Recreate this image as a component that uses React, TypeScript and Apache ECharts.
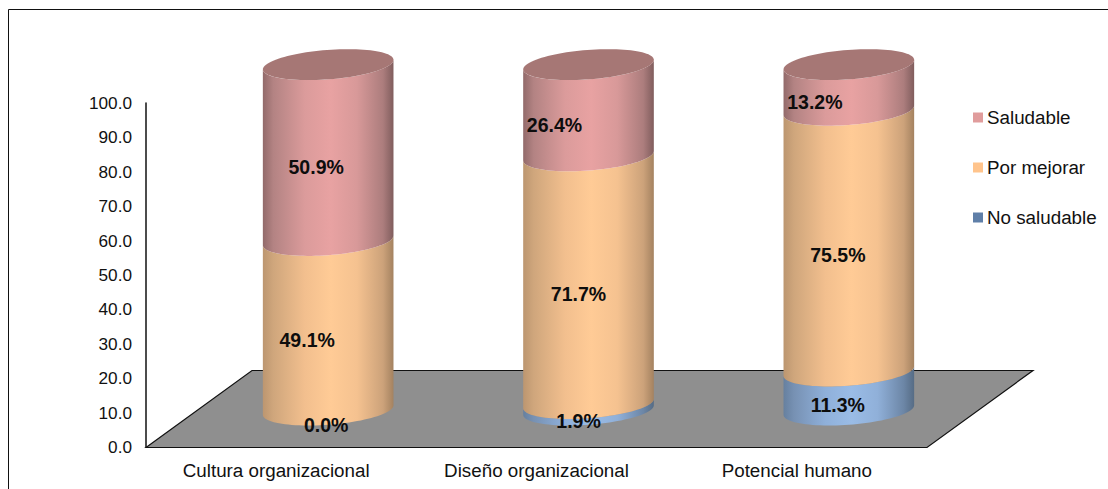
import React, { useEffect, useRef } from "react";
import * as echarts from "echarts";

const categories = ["Cultura organizacional", "Diseño organizacional", "Potencial humano"];
const noSaludable = [0.0, 1.9, 11.3];
const porMejorar = [49.1, 71.7, 75.5];
const saludable = [50.9, 26.4, 13.2];
const axisTicks = { min: 0, max: 100, interval: 10 };

const FONT = '"Liberation Sans", Arial, sans-serif';
const DEPTH = { x: 106, y: 77 };
const CYL = { dx: 52, dy: -37, stretch: 1.004, a: 65.5, b: 14.7, theta: (4.4 * Math.PI) / 180 };
const LABEL_NUDGE: Record<string, number[]> = {
  "No saludable": [-2, -10, -11],
  "Por mejorar": [-21, -10, -11],
  Saludable: [-12, -34, -34],
};

const ramp = (colors: string[]) => {
  const offsets = [0, 0.08, 0.32, 0.52, 0.72, 0.92, 1];
  return new echarts.graphic.LinearGradient(
    0,
    0,
    1,
    0,
    colors.map((color, i) => ({ offset: offsets[i], color }))
  );
};

const layers = [
  {
    name: "No saludable",
    values: noSaludable,
    below: [0, 0, 0],
    fill: () => ramp(["#66809F", "#7791B3", "#8FB0DA", "#9ABCE6", "#90B0D9", "#6C86A6", "#566C85"]),
  },
  {
    name: "Por mejorar",
    values: porMejorar,
    below: noSaludable,
    fill: () => ramp(["#BC9670", "#CFA67C", "#F2BF8E", "#FFCB96", "#F5C290", "#CCA27A", "#A48260"]),
  },
  {
    name: "Saludable",
    values: saludable,
    below: noSaludable.map((v, i) => v + porMejorar[i]),
    fill: () => ramp(["#926A6A", "#B38383", "#DB9B9B", "#E8A2A2", "#D89999", "#AC7D7D", "#805D5D"]),
  },
];

const rim = (cx: number, cy: number, from: number, to: number, steps = 48) => {
  const { a, b, theta } = CYL;
  const pts: number[][] = [];
  for (let i = 0; i <= steps; i++) {
    const t = from + ((to - from) * i) / steps;
    pts.push([
      cx + a * Math.cos(t) * Math.cos(theta) + b * Math.sin(t) * Math.sin(theta),
      cy - a * Math.cos(t) * Math.sin(theta) + b * Math.sin(t) * Math.cos(theta),
    ]);
  }
  return pts;
};
const T0 = Math.atan2(CYL.b * Math.sin(CYL.theta), CYL.a * Math.cos(CYL.theta));

// Screen position of a value on a cylinder: axis scale, moved to mid-depth of the floor.
const cylPoint = (api: any, cat: number, value: number) => {
  const [cx, y] = api.coord([cat, value]);
  const [, y0] = api.coord([cat, 0]);
  return [cx + CYL.dx, y0 + CYL.dy - (y0 - y) * CYL.stretch];
};

export default function App() {
  const ref = useRef<HTMLDivElement>(null);
  useEffect(() => {
    document.body.style.margin = "0";
    const chart = echarts.init(ref.current!, null, { renderer: "svg" });

    const segmentSeries = layers.map((layer) => ({
      type: "custom",
      name: layer.name,
      coordinateSystem: "cartesian2d",
      z: 3,
      data: categories.map((c, i) => [i, layer.below[i], layer.below[i] + layer.values[i]]),
      encode: { x: 0, y: [1, 2] },
      clip: false,
      renderItem: (_: any, api: any) => {
        const from = api.value(1);
        const to = api.value(2);
        if (to - from <= 0) return null;
        const [x, y0] = cylPoint(api, api.value(0), from);
        const [, y1] = cylPoint(api, api.value(0), to);
        const points = [...rim(x, y0, T0, T0 + Math.PI), ...rim(x, y1, T0 + Math.PI, T0)];
        return { type: "polygon", shape: { points }, style: { fill: layer.fill() } };
      },
    }));

    const lidSeries = {
      type: "custom",
      name: "lid",
      coordinateSystem: "cartesian2d",
      z: 4,
      clip: false,
      data: categories.map((c, i) => [i, noSaludable[i] + porMejorar[i] + saludable[i]]),
      encode: { x: 0, y: 1 },
      renderItem: (_: any, api: any) => {
        const [x, y] = cylPoint(api, api.value(0), api.value(1));
        return {
          type: "polygon",
          shape: { points: rim(x, y, 0, Math.PI * 2, 96) },
          style: { fill: "#A67775" },
        };
      },
    };

    const labelData = layers.flatMap((layer) =>
      categories.map((c, i) => [i, layer.below[i] + layer.values[i] / 2, layer.values[i], LABEL_NUDGE[layer.name][i]])
    );
    const labelSeries = {
      type: "custom",
      name: "labels",
      coordinateSystem: "cartesian2d",
      z: 5,
      clip: false,
      data: labelData,
      encode: { x: 0, y: 1 },
      renderItem: (_: any, api: any) => {
        const [x, y] = cylPoint(api, api.value(0), api.value(1));
        return {
          type: "text",
          x: x + api.value(3),
          y: y + CYL.b,
          style: {
            text: `${api.value(2).toFixed(1)}%`,
            font: `bold 19.5px ${FONT}`,
            fill: "#0d0d0d",
            align: "center",
            verticalAlign: "middle",
          },
        };
      },
    };

    const floorSeries = {
      type: "custom",
      name: "floor",
      coordinateSystem: "cartesian2d",
      z: 1,
      clip: false,
      data: [[0, 0]],
      encode: { x: 0, y: 1 },
      renderItem: (params: any) => {
        const { x, y, width, height } = params.coordSys;
        const by = y + height + 0.5;
        return {
          type: "polygon",
          shape: {
            points: [
              [x, by],
              [x + DEPTH.x, by - DEPTH.y],
              [x + width + DEPTH.x, by - DEPTH.y],
              [x + width, by],
            ],
          },
          style: { fill: "#8F8F8F", stroke: "#111", lineWidth: 1.2 },
        };
      },
    };

    chart.setOption({
      animation: false,
      backgroundColor: "#fff",
      textStyle: { fontFamily: FONT },
      grid: { left: 146, right: 181, top: 103, bottom: 42, containLabel: false },
      graphic: [
        { type: "line", z: 10, shape: { x1: 8.5, y1: 9.5, x2: 1108, y2: 9.5 }, style: { stroke: "#111", lineWidth: 1 } },
        { type: "line", z: 10, shape: { x1: 8.5, y1: 9.5, x2: 8.5, y2: 489 }, style: { stroke: "#111", lineWidth: 1 } },
      ],
      legend: {
        orient: "vertical",
        left: 968,
        top: 103,
        itemWidth: 10,
        itemHeight: 10,
        itemGap: 31,
        selectedMode: false,
        textStyle: { fontFamily: FONT, fontSize: 18.8, color: "#111", padding: [0, 0, 0, -1] },
        data: [
          { name: "Saludable", icon: "rect", itemStyle: { color: "#E09C9C" } },
          { name: "Por mejorar", icon: "rect", itemStyle: { color: "#FFC48C" } },
          { name: "No saludable", icon: "rect", itemStyle: { color: "#5F7FA8" } },
        ],
      },
      xAxis: {
        type: "category",
        data: categories,
        axisLine: { show: false },
        axisTick: { show: false },
        axisLabel: { color: "#111", fontSize: 18.8, fontFamily: FONT, margin: 14 },
      },
      yAxis: {
        type: "value",
        min: axisTicks.min,
        max: axisTicks.max,
        interval: axisTicks.interval,
        splitLine: { show: false },
        axisTick: { show: false },
        axisLine: { show: true, lineStyle: { color: "#111", width: 1.5 } },
        axisLabel: {
          color: "#111",
          fontSize: 17.2,
          fontFamily: FONT,
          margin: 14,
          formatter: (v: number) => v.toFixed(1),
        },
      },
      series: [floorSeries, ...segmentSeries, lidSeries, labelSeries],
    });
    return () => chart.dispose();
  }, []);
  return <div ref={ref} style={{ width: 1108, height: 489 }} />;
}
